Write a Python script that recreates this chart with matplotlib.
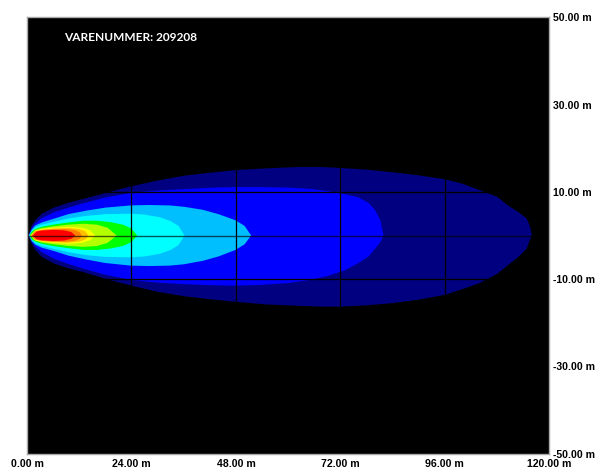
import matplotlib
matplotlib.use("Agg")
import matplotlib.pyplot as plt
from matplotlib.font_manager import FontProperties

# ---- data (metres), outermost contour first ----
level_colors = ["#000080", "#0000ff", "#00bfff", "#00ffff", "#00ff00",
                "#b4ff00", "#ffff00", "#ffc000", "#ff8000", "#ff0000"]

navy_x = [0.3, 1.1, 1.9, 3.4, 6.4, 9.5, 12.6, 16, 19, 24, 30, 36, 42, 48, 55, 62, 68, 72,
          78, 84, 90, 96, 100, 104, 108, 110.5, 113, 114.8, 115.6, 116]
navy_up = [0, 2.3, 3.5, 5.0, 6.5, 7.5, 8.3, 9.2, 10.0, 11.3, 12.6, 13.7, 14.4, 15.0, 15.4, 15.7,
           15.7, 15.5, 15.1, 14.5, 13.8, 12.9, 11.9, 10.4, 8.9, 6.9, 5.3, 3.9, 2.0, 0]
navy_lo = [0, -1.9, -3.3, -4.9, -6.5, -7.5, -8.3, -9.3, -10.2, -11.5, -12.9, -13.9, -14.6, -15.2,
           -15.8, -16.1, -16.3, -16.3, -16.0, -15.5, -14.7, -13.6, -12.3, -10.9, -8.8, -6.8,
           -4.8, -3.0, -0.8, 0]

blue_x = [0.4, 1.1, 1.9, 3.4, 6.4, 9.5, 12.6, 18, 24, 30, 37, 43, 48, 54, 60, 65, 69, 73,
          76, 78.5, 80, 81.2, 81.9]
blue_up = [0, 1.7, 2.8, 4.0, 5.4, 6.4, 7.3, 8.7, 9.8, 10.3, 10.7, 11.0, 11.1, 11.1, 11.0,
           10.7, 10.2, 9.5, 8.8, 7.5, 5.8, 3.5, 0]
blue_lo = [0, -1.5, -2.5, -3.8, -5.4, -6.5, -7.5, -9.0, -10.2, -10.8, -11.2, -11.4, -11.5,
           -11.3, -10.9, -10.2, -9.3, -8.0, -6.4, -4.8, -3.0, -1.5, 0]

sky_x = [0.4, 1.1, 1.9, 3.4, 6.0, 9.5, 13.6, 18, 23.8, 28, 32.8, 36, 40.4, 44, 47.9, 50, 51.5]
sky_up = [0, 1.4, 2.3, 3.0, 3.8, 4.9, 5.7, 6.4, 6.9, 7.0, 6.9, 6.6, 5.9, 4.9, 3.5, 2.2, 0]
sky_lo = [0, -1.3, -2.1, -2.8, -3.5, -4.6, -5.5, -6.3, -6.9, -7.0, -6.9, -6.6, -5.8, -4.8,
          -3.3, -2.0, 0]

cyan_x = [0.5, 1.1, 1.9, 3.4, 6.0, 9.5, 13.6, 18, 23.8, 27, 30.5, 33, 34.8, 36.2]
cyan_up = [0, 1.1, 1.9, 2.5, 3.1, 3.9, 4.5, 4.9, 5.0, 4.8, 4.2, 3.3, 2.2, 0]
cyan_lo = [0, -1.0, -1.8, -2.4, -3.0, -3.8, -4.5, -4.9, -5.0, -4.8, -4.2, -3.3, -2.2, 0]

green_x = [0.6, 1.1, 1.9, 3.4, 6.0, 9.5, 13, 16, 19, 22, 24, 25.3]
green_up = [0, 0.9, 1.5, 2.0, 2.5, 3.0, 3.4, 3.4, 3.1, 2.5, 1.6, 0]
green_lo = [0, -0.9, -1.4, -1.9, -2.4, -2.9, -3.3, -3.3, -3.0, -2.4, -1.5, 0]

ygreen_x = [0.7, 1.9, 3.4, 6.0, 9.5, 13, 16, 18.5, 20.6]
ygreen_up = [0, 1.3, 1.7, 2.1, 2.5, 2.7, 2.5, 1.8, 0]
ygreen_lo = [0, -1.2, -1.6, -2.0, -2.4, -2.6, -2.4, -1.7, 0]

yellow_x = [0.8, 1.9, 3.4, 6, 9.5, 12.5, 14.5, 15.7]
yellow_up = [0, 1.15, 1.5, 1.8, 2.0, 1.8, 1.2, 0]
yellow_lo = [0, -1.1, -1.4, -1.7, -1.9, -1.7, -1.1, 0]

lorange_x = [0.9, 1.9, 3.4, 6, 9.5, 12, 13.4, 14.1]
lorange_up = [0, 1.05, 1.35, 1.6, 1.75, 1.5, 1.0, 0]
lorange_lo = [0, -1.0, -1.3, -1.5, -1.65, -1.4, -0.9, 0]

orange_x = [1.0, 1.9, 3.4, 6, 9, 11, 12.1, 12.6]
orange_up = [0, 0.95, 1.25, 1.45, 1.5, 1.25, 0.8, 0]
orange_lo = [0, -0.9, -1.2, -1.4, -1.45, -1.2, -0.75, 0]

red_x = [1.3, 2.2, 3.4, 6, 8.5, 10.2, 11.1]
red_up = [0, 0.9, 1.15, 1.3, 1.2, 0.8, 0]
red_lo = [0, -0.85, -1.1, -1.25, -1.15, -0.75, 0]

contours = [(navy_x, navy_up, navy_lo), (blue_x, blue_up, blue_lo), (sky_x, sky_up, sky_lo),
            (cyan_x, cyan_up, cyan_lo), (green_x, green_up, green_lo),
            (ygreen_x, ygreen_up, ygreen_lo), (yellow_x, yellow_up, yellow_lo),
            (lorange_x, lorange_up, lorange_lo), (orange_x, orange_up, orange_lo),
            (red_x, red_up, red_lo)]

x_ticks = [0, 24, 48, 72, 96, 120]
y_ticks = [50, 30, 10, -10, -30, -50]
x_tick_labels = ["0.00 m", "24.00 m", "48.00 m", "72.00 m", "96.00 m", "120.00 m"]
y_tick_labels = ["50.00 m", "30.00 m", "10.00 m", "-10.00 m", "-30.00 m", "-50.00 m"]
title_text = "VARENUMMER: 209208"

# ---- drawing ----
fig = plt.figure(figsize=(6, 4.72), dpi=100)
fig.patch.set_facecolor("white")
ax = fig.add_axes([0.045, 0.039, 0.8705, 0.924])
ax.set_facecolor("black")
ax.set_xlim(0, 120)
ax.set_ylim(-50, 50)

for (xs, up, lo), col in zip(contours, level_colors):
    px = list(xs) + list(xs)[::-1]
    py = list(up) + list(lo)[::-1]
    ax.fill(px, py, color=col, lw=0, zorder=1)

for xv in x_ticks[1:-1]:
    ax.axvline(xv, color="black", lw=0.9, zorder=2)
for yv in y_ticks[1:-1]:
    ax.axhline(yv, color="black", lw=0.9, zorder=2)
ax.axhline(0, color="black", lw=1.0, alpha=0.65, zorder=2)

label_font = FontProperties(family="Liberation Sans", weight="bold", stretch="normal", size=7.6)

ax.set_xticks(x_ticks)
ax.set_xticklabels(x_tick_labels, fontproperties=label_font)
ax.set_yticks(y_ticks)
ax.set_yticklabels(y_tick_labels, fontproperties=label_font)
ax.yaxis.tick_right()
ax.tick_params(axis="both", length=0, colors="black")
ax.tick_params(axis="x", pad=4)
ax.tick_params(axis="y", pad=3)

for sp in ax.spines.values():
    sp.set_color("#a8a8a8")
    sp.set_linewidth(1.0)

ax.text(0.071, 0.953, title_text, transform=ax.transAxes, color="white",
        fontsize=8.6, fontweight="bold", family="Lato", ha="left", va="center")

fig.savefig("out.png", dpi=100, facecolor="white")
